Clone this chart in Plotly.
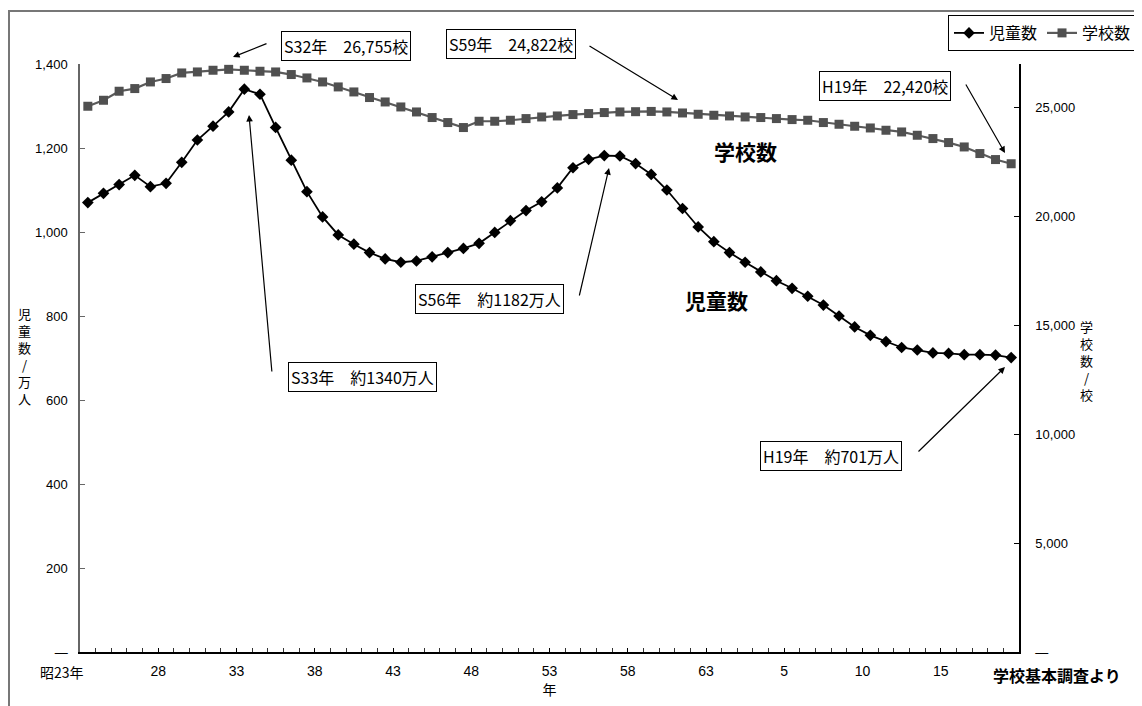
import plotly.graph_objects as go

# ---------------- data ----------------
years = list(range(1948, 2008))  # 昭23年 .. 平19年

children = [1070, 1092, 1113, 1135, 1108, 1116, 1166, 1219, 1252, 1286,
            1340, 1328, 1249, 1171, 1096, 1036, 993, 971, 951, 936,
            928, 931, 941, 951, 961, 973, 999, 1027, 1051, 1072,
            1105, 1153, 1173, 1182, 1181, 1163, 1137, 1100, 1056, 1012,
            977, 951, 928, 905, 884, 866, 847, 826, 800, 774,
            754, 739, 725, 719, 712, 711, 708, 708, 707, 701]

schools = [25060, 25335, 25749, 25872, 26176, 26332, 26589, 26635, 26713, 26755,
           26713, 26667, 26635, 26516, 26360, 26176, 25947, 25717, 25460, 25257,
           25028, 24798, 24541, 24311, 24082, 24371, 24371, 24417, 24494, 24568,
           24614, 24678, 24724, 24770, 24798, 24810, 24822, 24798, 24752, 24692,
           24646, 24614, 24568, 24541, 24494, 24448, 24417, 24311, 24233, 24141,
           24063, 23958, 23880, 23728, 23576, 23392, 23191, 22888, 22612, 22420]

label_years = [1948, 1953, 1958, 1963, 1968, 1973, 1978, 1983, 1988, 1993, 1998, 2003]
tick_labels = ["昭23年", "28", "33", "38", "43", "48", "53", "58", "63", "5", "10", "15"]

left_ticks = [0, 200, 400, 600, 800, 1000, 1200, 1400]
left_tick_text = ["—", "200", "400", "600", "800", "1,000", "1,200", "1,400"]
right_ticks = [0, 5000, 10000, 15000, 20000, 25000]
right_tick_text = ["—", "5,000", "10,000", "15,000", "20,000", "25,000"]

# ---------------- geometry helpers ----------------
# the page has an 8px body margin, so screen px = figure px + 8
OFF = 8
W, H = 1142, 706
PW, PH = 939, 588
ML, MT = 80 - OFF, 64 - OFF
MR, MB = W - ML - PW, H - MT - PH


def px(x):
    return (x - 80) / PW


def py(y):
    return (652 - y) / PH


CJK = "Noto Sans CJK JP, Liberation Sans, sans-serif"
NUM = "Liberation Sans, Arial, sans-serif"

fig = go.Figure()
fig.add_trace(go.Scatter(
    x=years, y=children, name="児童数", mode="lines+markers",
    line=dict(color="black", width=1.8),
    marker=dict(symbol="diamond", size=9, color="black"),
    yaxis="y"))
fig.add_trace(go.Scatter(
    x=years, y=schools, name="学校数", mode="lines+markers",
    line=dict(color="#5a5a5a", width=2.2),
    marker=dict(symbol="square", size=9, color="#505050"),
    yaxis="y2"))

fig.update_layout(
    width=W, height=H,
    margin=dict(l=ML, r=MR, t=MT, b=MB, autoexpand=False),
    paper_bgcolor="white", plot_bgcolor="white",
    font=dict(family=CJK, size=14, color="black"),
    showlegend=True,
    legend=dict(orientation="h", x=px(948), y=py(15), xanchor="left", yanchor="top",
                bordercolor="black", borderwidth=1, bgcolor="white",
                font=dict(size=16, family=CJK), itemwidth=30,
                tracegroupgap=0),
    xaxis=dict(range=[years[0] - 0.5, years[-1] + 0.5], automargin=False,
               showline=True, linecolor="black", linewidth=1.5,
               showgrid=False, zeroline=False,
               tickmode="array", tickvals=[y - 0.5 for y in label_years],
               ticktext=[""] + tick_labels[1:], ticks="inside", ticklen=4,
               tickcolor="black", ticklabelstandoff=5,
               minor=dict(ticks="inside", tick0=years[0] - 0.5, dtick=1, ticklen=4,
                          tickcolor="#333", showgrid=False),
               tickfont=dict(size=14, family=NUM),
               title=dict(text="年", font=dict(size=14, family=CJK), standoff=4)),
    yaxis=dict(range=[0, 1400], showline=True, linecolor="#666", linewidth=1.5,
               showgrid=False, zeroline=False, automargin=False,
               tickmode="array", tickvals=left_ticks, ticktext=left_tick_text,
               ticks="inside", ticklen=5, tickcolor="#666",
               ticklabelstandoff=8,
               tickfont=dict(size=13, family=NUM)),
    yaxis2=dict(range=[0, 27000], overlaying="y", side="right", automargin=False,
                showline=True, linecolor="black", linewidth=1.5,
                showgrid=False, zeroline=False,
                tickmode="array", tickvals=right_ticks, ticktext=right_tick_text,
                ticks="inside", ticklen=5, tickcolor="black",
                ticklabelstandoff=12,
                tickfont=dict(size=13, family=NUM)),
)

shapes = [
    # outer frame
    dict(type="rect", xref="paper", yref="paper",
         x0=px(9), y0=py(11), x1=px(1170), y1=py(730),
         line=dict(color="#777", width=2), fillcolor="rgba(0,0,0,0)"),
    # cut-off title box at top
    dict(type="rect", xref="paper", yref="paper",
         x0=px(240), y0=py(-30), x1=px(830), y1=py(2),
         line=dict(color="#222", width=1.5), fillcolor="rgba(0,0,0,0)"),
]
fig.update_layout(shapes=shapes)


def label(text, cx, cy, size, **kw):
    return dict(text=text, xref="paper", yref="paper", x=px(cx), y=py(cy),
                xanchor="center", yanchor="middle", showarrow=False,
                font=dict(size=size, family=kw.pop("family", CJK)), **kw)


annos = []
# boxed callouts: (text, center x px, center y px)
boxes = [
    ("S32年　26,755校", 346, 46),
    ("S59年　24,822校", 511, 44),
    ("H19年　22,420校", 885, 86),
    ("S33年　約1340万人", 362, 377),
    ("S56年　約1182万人", 489, 299),
    ("H19年　約701万人", 831, 456),
]
for t, cx, cy in boxes:
    annos.append(label(t, cx, cy, 16, bordercolor="black", borderwidth=1,
                       borderpad=2, bgcolor="white"))
# arrows: head (x,y) and tail (x,y) in px
arrows = [
    ((233, 57), (268, 43)),
    ((678, 100), (588, 45)),
    ((1005, 153), (965, 83)),
    ((249, 115), (272, 373)),
    ((609, 168), (579, 297)),
    ((1005, 367), (917, 453)),
]
for (hx, hy), (tx, ty) in arrows:
    annos.append(dict(text="", xref="paper", yref="paper", x=px(hx), y=py(hy),
                      ax=tx - hx, ay=ty - hy, showarrow=True,
                      arrowhead=2, arrowsize=1.1, arrowwidth=1.2, arrowcolor="black",
                      standoff=0, startstandoff=0))
# first x tick label (drawn left of its tick as in the source)
annos.append(label(tick_labels[0], 62, 672, 14))
# bold series labels
annos.append(label("<b>学校数</b>", 745, 151, 21))
annos.append(label("<b>児童数</b>", 716, 300, 21))
annos.append(label("<b>学校基本調査より</b>", 1057, 675, 16))
# vertical axis titles
annos.append(label("<br>".join(list("児童数/万人")), 24, 356, 13, align="center"))
annos.append(label("<br>".join(list("学校数/校")), 1086, 360, 13, align="center"))
fig.update_layout(annotations=annos)

fig.write_html("out.html")
